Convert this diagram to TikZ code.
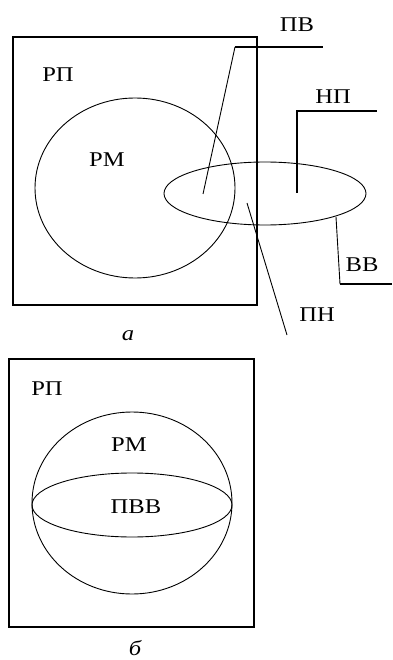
\documentclass[tikz,border=0pt]{standalone}
\usepackage{fontspec}
\setmainfont{Liberation Serif}[FakeStretch=1.17]
\usetikzlibrary{positioning}
\tikzset{every node/.append style={align=center}}

\begin{document}
\begin{tikzpicture}[x=1pt, y=-1pt, every node/.style={font=\fontsize{21}{25}\selectfont, inner sep=0pt},
  frame/.style={line width=2.2pt}, contour/.style={line width=0.9pt}, shelf/.style={line width=2pt}]
  \useasboundingbox (0,0) rectangle (392,660);
  % part a
  \draw[frame] (13,37) rectangle (257,305);
  \draw[contour] (135,188) ellipse [x radius=100, y radius=90];
  \draw[contour] (265,193.5) ellipse [x radius=101, y radius=31.5];
  \node (rpA) at (58,75) {РП};
  \node (rmA) at (107,160) {РМ};
  \node (pv) at (297,25) {ПВ};
  \node (np) at (333,97) {НП};
  \node (vv) at (362,265) {ВВ};
  \node (pn) at (317,315) {ПН};
  \node[font=\fontsize{21}{25}\selectfont\itshape] (capA) at (128,336) {а};
  \coordinate (pvIn) at (203,194); \coordinate (pvKnee) at (235,47); \coordinate (pvEnd) at (323,47);
  \coordinate (npIn) at (297,193); \coordinate (npKnee) at (297,111); \coordinate (npEnd) at (377,111);
  \coordinate (vvIn) at (336,217); \coordinate (vvKnee) at (340,284); \coordinate (vvEnd) at (392,284);
  \coordinate (pnIn) at (247,203); \coordinate (pnEnd) at (287,335);
  \draw[contour] (pvIn) -- (pvKnee); \draw[shelf] (pvKnee) -- (pvEnd);
  \draw[shelf] (npIn) -- (npKnee) -- (npEnd);
  \draw[contour] (vvIn) -- (vvKnee); \draw[shelf] (vvKnee) -- (vvEnd);
  \draw[contour] (pnIn) -- (pnEnd);
  % part b
  \draw[frame] (9,359) rectangle (254,627);
  \draw[contour] (132,503) ellipse [x radius=100, y radius=91];
  \draw[contour] (132,505) ellipse [x radius=100, y radius=32];
  \node (rpB) at (47,389) {РП};
  \node (rmB) at (129,445) {РМ};
  \node (pvv) at (136,507) {ПВВ};
  \node[font=\fontsize{21}{25}\selectfont\itshape] (capB) at (135,648) {б};
\end{tikzpicture}
\end{document}
